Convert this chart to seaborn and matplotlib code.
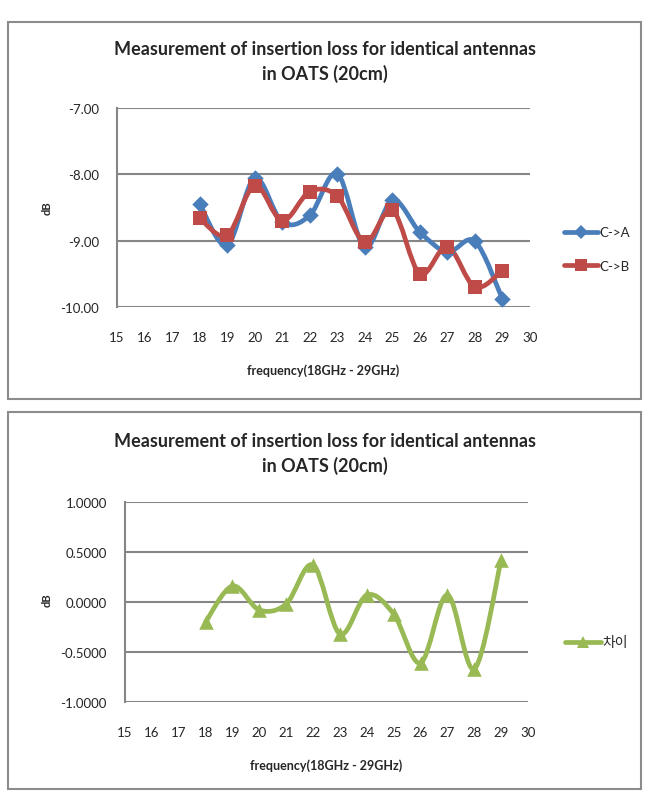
import numpy as np
import pandas as pd
import matplotlib
matplotlib.use("Agg")
import matplotlib.pyplot as plt
from matplotlib.path import Path
from matplotlib.patches import PathPatch, Rectangle
from matplotlib.lines import Line2D
import seaborn as sns

#--------------------------- data ---------------------------
freq = [18, 19, 20, 21, 22, 23, 24, 25, 26, 27, 28, 29]
c_to_a = [-8.44, -9.07, -8.06, -8.72, -8.62, -7.99, -9.10, -8.39, -8.87, -9.17, -9.01, -9.88]
c_to_b = [-8.66, -8.92, -8.17, -8.70, -8.26, -8.33, -9.02, -8.54, -9.50, -9.09, -9.70, -9.45]
diff = [-0.20, 0.16, -0.08, -0.02, 0.37, -0.32, 0.07, -0.12, -0.61, 0.07, -0.67, 0.42]
x_ticks = list(range(15, 31))
top_yticks = [-10, -9, -8, -7]
bot_yticks = [-1.0, -0.5, 0.0, 0.5, 1.0]

title = "Measurement of insertion loss for identical antennas\nin OATS (20cm)"
xlabel = "frequency(18GHz - 29GHz)"

BLUE = "#4A7EBB"
RED = "#BE4B48"
GREEN = "#98B954"
GRID = "#868686"

sns.set_style("white")
plt.rcParams["font.family"] = ["Lato", "Noto Sans CJK KR", "DejaVu Sans"]


def smooth_path(x, y):
    # excel style smoothed line (catmull-rom as bezier)
    pts = np.column_stack([x, y]).astype(float)
    n = len(pts)
    verts = [pts[0]]
    codes = [Path.MOVETO]
    for i in range(n - 1):
        p0 = pts[i - 1] if i > 0 else pts[i]
        p1 = pts[i]
        p2 = pts[i + 1]
        p3 = pts[i + 2] if i + 2 < n else pts[i + 1]
        verts += [p1 + (p2 - p0) / 6, p2 - (p3 - p1) / 6, p2]
        codes += [Path.CURVE4] * 3
    return Path(verts, codes)


def draw_series(ax, df, col, color, marker, size):
    ax.add_patch(PathPatch(smooth_path(df["freq"], df[col]), fill=False,
                           edgecolor=color, lw=3.4, capstyle="round",
                           joinstyle="round", zorder=3))
    sns.scatterplot(data=df, x="freq", y=col, ax=ax, color=color, marker=marker,
                    s=size, edgecolor=color, linewidth=0, zorder=4, legend=False)


def style_axes(ax, yticks, fmt):
    ax.set_xlim(15, 30)
    ax.set_ylim(yticks[0], yticks[-1])
    ax.set_xticks(x_ticks)
    ax.set_yticks(yticks)
    ax.set_yticklabels([fmt.format(v) for v in yticks], fontsize=9.5)
    ax.set_xticklabels([str(v) for v in x_ticks], fontsize=9.5)
    ax.grid(axis="y", color=GRID, lw=1.5)
    ax.grid(axis="x", visible=False)
    for s in ["top", "right", "bottom"]:
        ax.spines[s].set_visible(False)
    ax.spines["left"].set_color(GRID)
    ax.spines["left"].set_linewidth(1.5)
    ax.tick_params(length=0)
    ax.tick_params(axis="y", pad=13)
    ax.tick_params(axis="x", pad=17)
    ax.set_xlabel(xlabel, fontsize=9, fontweight="bold", labelpad=15)
    ax.set_ylabel("")


df = pd.DataFrame({"freq": freq, "c_to_a": c_to_a, "c_to_b": c_to_b, "diff": diff})

fig = plt.figure(figsize=(6.49, 8.04), dpi=100)

# chart frames
for y0 in [1 - 400 / 804, 1 - 790 / 804]:
    fig.patches.append(Rectangle((8 / 649, y0), 633 / 649, 377 / 804,
                                 transform=fig.transFigure, fill=False,
                                 edgecolor="#8c8c8c", lw=1.5))

#--------------------------- top chart ---------------------------
ax1 = fig.add_axes([117 / 649, 1 - 308 / 804, 413 / 649, 199 / 804])
draw_series(ax1, df, "c_to_a", BLUE, "D", 70)
draw_series(ax1, df, "c_to_b", RED, "s", 110)
style_axes(ax1, top_yticks, "{:.2f}")
fig.text(325 / 649, 1 - 62 / 804, title, ha="center", va="center",
         fontsize=13, fontweight="bold", linespacing=1.45)
fig.text(47 / 649, 1 - 208 / 804, "dB", rotation=90, ha="center", va="center",
         fontsize=8, fontweight="bold")
h1 = [Line2D([], [], color=BLUE, lw=3.4, marker="D", ms=7, mew=0),
      Line2D([], [], color=RED, lw=3.4, marker="s", ms=9, mew=0)]
fig.legend(h1, ["C->A", "C->B"], loc="center left",
           bbox_to_anchor=(552 / 649, 1 - 250 / 804), frameon=False,
           fontsize=9.5, handlelength=2.6, handletextpad=0.1, labelspacing=1.6)

#--------------------------- bottom chart ---------------------------
ax2 = fig.add_axes([125 / 649, 1 - 703 / 804, 403 / 649, 200 / 804])
draw_series(ax2, df, "diff", GREEN, "^", 110)
style_axes(ax2, bot_yticks, "{:.4f}")
fig.text(325 / 649, 1 - 454 / 804, title, ha="center", va="center",
         fontsize=13, fontweight="bold", linespacing=1.45)
fig.text(47 / 649, 1 - 600 / 804, "dB", rotation=90, ha="center", va="center",
         fontsize=8, fontweight="bold")
h2 = [Line2D([], [], color=GREEN, lw=3.4, marker="^", ms=9, mew=0)]
fig.legend(h2, ["차이"], loc="center left",
           bbox_to_anchor=(552 / 649, 1 - 643 / 804), frameon=False,
           fontsize=10, handlelength=2.6, handletextpad=0.1)

fig.savefig("out.png", dpi=100)
